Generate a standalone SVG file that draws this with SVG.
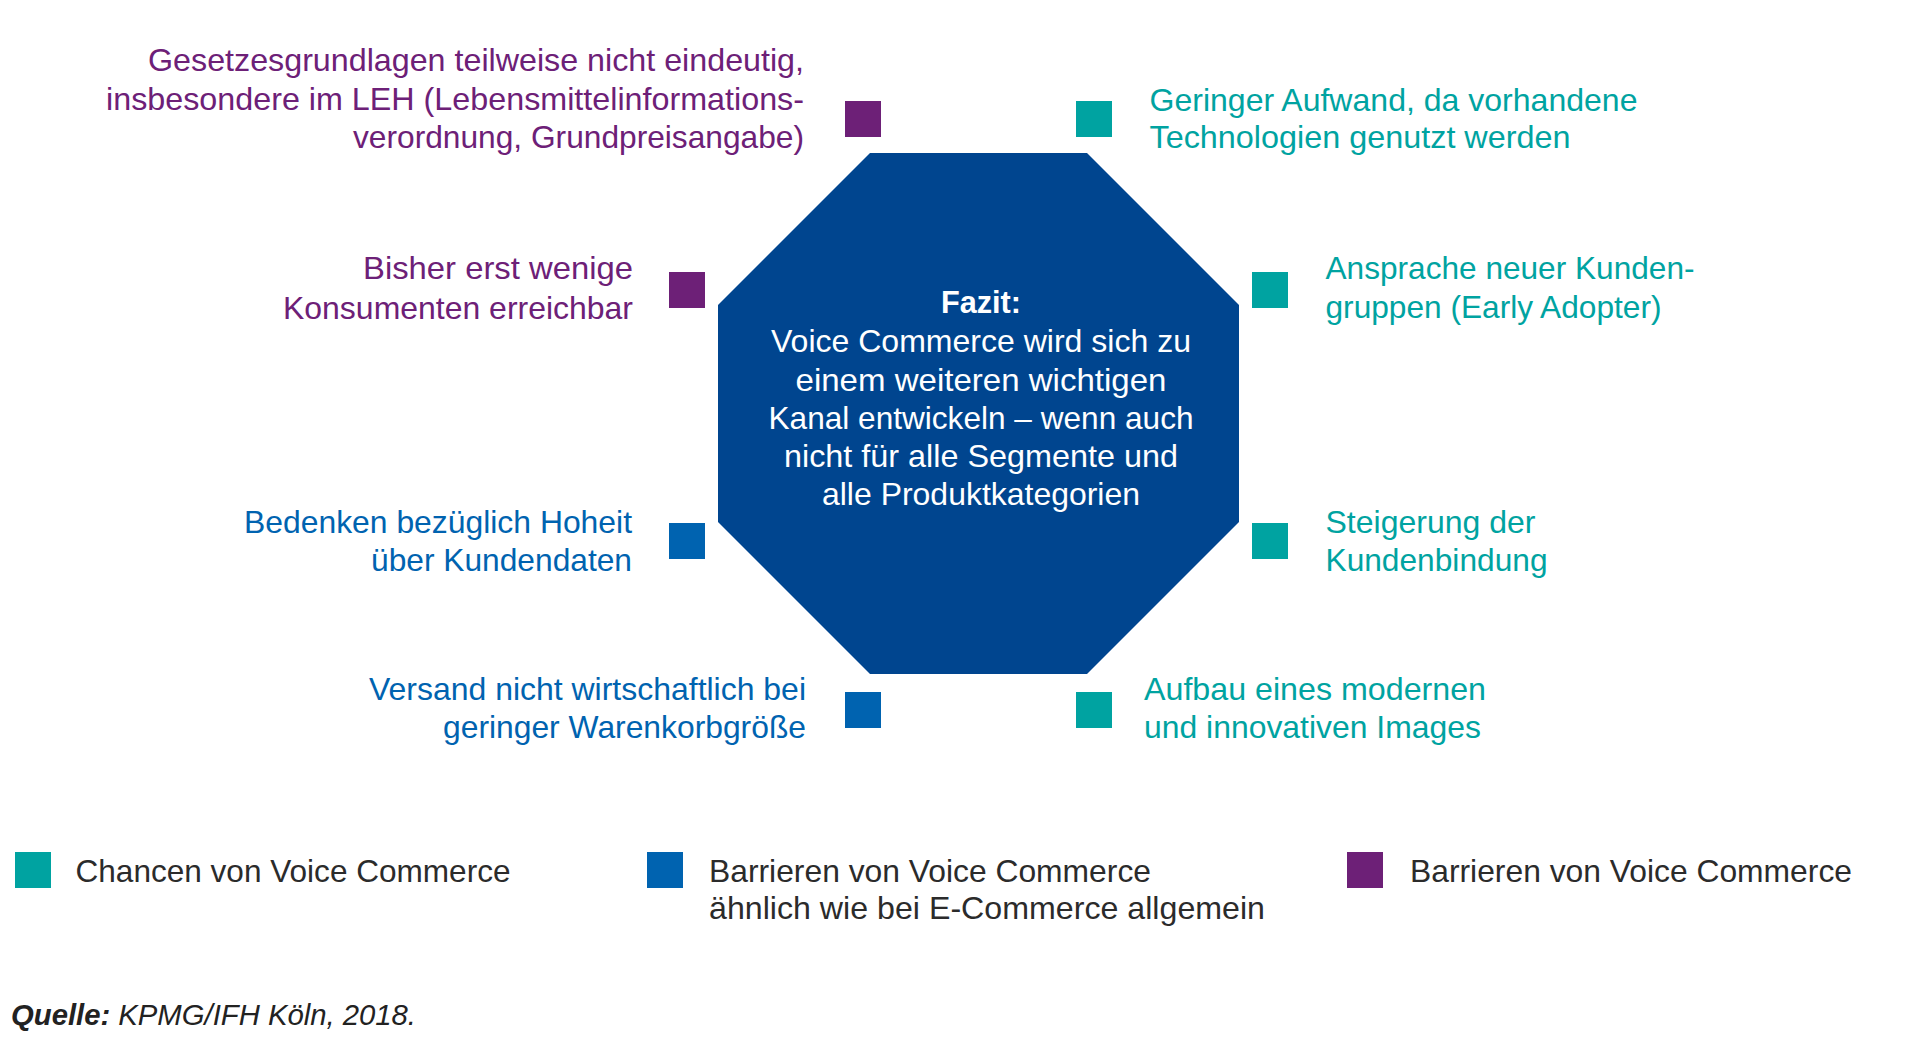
<svg xmlns="http://www.w3.org/2000/svg" width="1920" height="1040" viewBox="0 0 1920 1040">
<style>
  text { font-family: "Liberation Sans", Arial, sans-serif; font-size: 32px; }
  .purple { fill: #6D2077; }
  .teal { fill: #00A3A1; }
  .blue { fill: #0063B0; }
  .dark { fill: #2B2B2B; }
  .end { text-anchor: end; }
  .center { text-anchor: middle; fill: #FFFFFF; }
  .oct { fill: #00458F; }
  .src { font-size: 29.5px; font-style: italic; fill: #222222; }
</style>
<defs>
  <rect id="sq" width="36" height="36"/>
</defs>
<rect width="1920" height="1040" fill="#FFFFFF"/>

<g id="fazit">
  <polygon class="oct" points="870,153 1087,153 1239,305 1239,522 1087,674 870,674 718,522 718,305"/>
  <text class="center" x="981" y="313" font-weight="bold" textLength="80" lengthAdjust="spacingAndGlyphs">Fazit:</text>
  <text class="center" x="981" y="352" textLength="420" lengthAdjust="spacingAndGlyphs">Voice Commerce wird sich zu</text>
  <text class="center" x="981" y="390.5" textLength="371" lengthAdjust="spacingAndGlyphs">einem weiteren wichtigen</text>
  <text class="center" x="981" y="429" textLength="425" lengthAdjust="spacingAndGlyphs">Kanal entwickeln – wenn auch</text>
  <text class="center" x="981" y="467" textLength="394" lengthAdjust="spacingAndGlyphs">nicht für alle Segmente und</text>
  <text class="center" x="981" y="505" textLength="318" lengthAdjust="spacingAndGlyphs">alle Produktkategorien</text>
</g>

<g id="node-gesetz">
  <use href="#sq" x="845" y="101" class="purple"/>
  <text class="purple end" x="804" y="71" textLength="656" lengthAdjust="spacingAndGlyphs">Gesetzesgrundlagen teilweise nicht eindeutig,</text>
  <text class="purple end" x="804" y="110" textLength="698" lengthAdjust="spacingAndGlyphs">insbesondere im LEH (Lebensmittelinformations-</text>
  <text class="purple end" x="804" y="148" textLength="451" lengthAdjust="spacingAndGlyphs">verordnung, Grundpreisangabe)</text>
</g>

<g id="node-aufwand">
  <use href="#sq" x="1076" y="101" class="teal"/>
  <text class="teal" x="1149.5" y="111" textLength="488" lengthAdjust="spacingAndGlyphs">Geringer Aufwand, da vorhandene</text>
  <text class="teal" x="1149.5" y="148" textLength="421" lengthAdjust="spacingAndGlyphs">Technologien genutzt werden</text>
</g>

<g id="node-konsumenten">
  <use href="#sq" x="669" y="272" class="purple"/>
  <text class="purple end" x="633" y="279" textLength="270" lengthAdjust="spacingAndGlyphs">Bisher erst wenige</text>
  <text class="purple end" x="633" y="319" textLength="350" lengthAdjust="spacingAndGlyphs">Konsumenten erreichbar</text>
</g>

<g id="node-ansprache">
  <use href="#sq" x="1252" y="272" class="teal"/>
  <text class="teal" x="1325.5" y="279" textLength="369" lengthAdjust="spacingAndGlyphs">Ansprache neuer Kunden-</text>
  <text class="teal" x="1325.5" y="318" textLength="336" lengthAdjust="spacingAndGlyphs">gruppen (Early Adopter)</text>
</g>

<g id="node-bedenken">
  <use href="#sq" x="669" y="523" class="blue"/>
  <text class="blue end" x="632" y="533" textLength="388" lengthAdjust="spacingAndGlyphs">Bedenken bezüglich Hoheit</text>
  <text class="blue end" x="632" y="571" textLength="261" lengthAdjust="spacingAndGlyphs">über Kundendaten</text>
</g>

<g id="node-kundenbindung">
  <use href="#sq" x="1252" y="523" class="teal"/>
  <text class="teal" x="1325.5" y="533" textLength="210" lengthAdjust="spacingAndGlyphs">Steigerung der</text>
  <text class="teal" x="1325.5" y="571" textLength="222" lengthAdjust="spacingAndGlyphs">Kundenbindung</text>
</g>

<g id="node-versand">
  <use href="#sq" x="845" y="692" class="blue"/>
  <text class="blue end" x="806" y="700" textLength="437" lengthAdjust="spacingAndGlyphs">Versand nicht wirtschaftlich bei</text>
  <text class="blue end" x="806" y="738" textLength="363" lengthAdjust="spacingAndGlyphs">geringer Warenkorbgröße</text>
</g>

<g id="node-image">
  <use href="#sq" x="1076" y="692" class="teal"/>
  <text class="teal" x="1144" y="700" textLength="342" lengthAdjust="spacingAndGlyphs">Aufbau eines modernen</text>
  <text class="teal" x="1144" y="738" textLength="337" lengthAdjust="spacingAndGlyphs">und innovativen Images</text>
</g>

<g id="connectors"></g>

<g id="legend">
  <g id="legend-chancen">
    <use href="#sq" x="15" y="852" class="teal"/>
    <text class="dark" x="75.5" y="882" textLength="435" lengthAdjust="spacingAndGlyphs">Chancen von Voice Commerce</text>
  </g>
  <g id="legend-barrieren-ecommerce">
    <use href="#sq" x="647" y="852" class="blue"/>
    <text class="dark" x="709" y="882" textLength="442" lengthAdjust="spacingAndGlyphs">Barrieren von Voice Commerce</text>
    <text class="dark" x="709" y="919" textLength="556" lengthAdjust="spacingAndGlyphs">ähnlich wie bei E-Commerce allgemein</text>
  </g>
  <g id="legend-barrieren">
    <use href="#sq" x="1347" y="852" class="purple"/>
    <text class="dark" x="1410" y="882" textLength="442" lengthAdjust="spacingAndGlyphs">Barrieren von Voice Commerce</text>
  </g>
</g>

<g id="source">
  <text class="src" x="11" y="1025" textLength="405" lengthAdjust="spacingAndGlyphs"><tspan font-weight="bold">Quelle:</tspan> KPMG/IFH Köln, 2018.</text>
</g>
</svg>
